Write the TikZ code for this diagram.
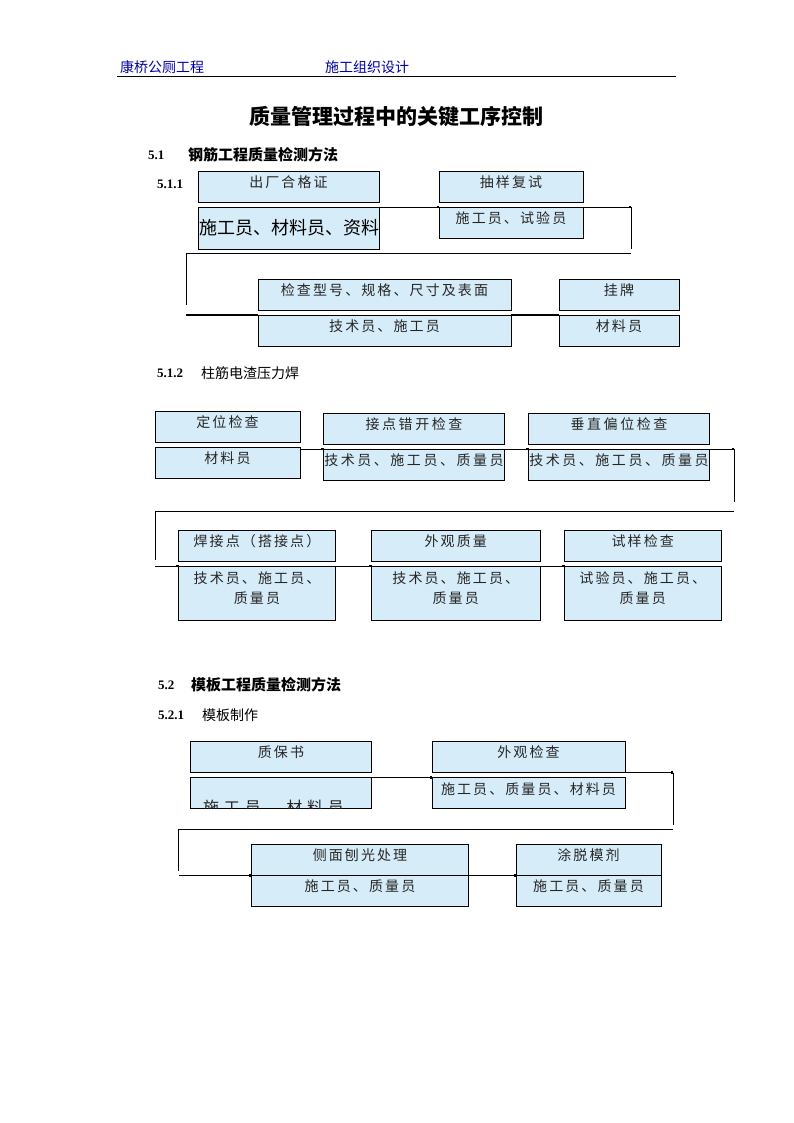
\documentclass[tikz,border=0pt]{standalone}
\usepackage{fontspec}
\setmainfont{Liberation Serif}
\newfontfamily\cjk{Noto Sans CJK SC}
\newfontfamily\boxfont[LetterSpace=15]{Noto Sans CJK SC}
\newfontfamily\wideboxfont[LetterSpace=18]{Noto Sans CJK SC}
\newfontfamily\clipfont[LetterSpace=30]{Noto Sans CJK SC}
\usepackage{tikz}
\usetikzlibrary{arrows.meta,positioning}
\definecolor{boxblue}{RGB}{214,236,248}
\definecolor{headblue}{RGB}{0,0,160}
\newcommand{\twolines}[2]{\raisebox{4pt}[\height][\depth]{\begin{tabular}{@{}c@{}}#1\\#2\end{tabular}}}

\begin{document}
\begin{tikzpicture}[x=1pt,y=-1pt,>={Square[length=2.5pt,width=2.5pt]},
	cell/.style={draw,line width=0.8pt,fill=boxblue,anchor=north west,inner sep=0pt,outer sep=0pt,
		font=\boxfont\fontsize{14}{20}\selectfont,text=black!85},
	box/.style={cell,text height=10pt,text depth=8pt},
	widebox/.style={box,font=\wideboxfont\fontsize{14}{20}\selectfont},
	head/.style={anchor=west,inner sep=0pt},
	flow/.style={line width=0.8pt},
	heavy/.style={line width=1.4pt}]
	\useasboundingbox (0,0) rectangle (794,1123);
	\node[head,text=headblue,font=\cjk\fontsize{14}{16}\selectfont] (hda) at (120,67) {康桥公厕工程};
	\node[head,text=headblue,font=\cjk\fontsize{14}{16}\selectfont] (hdb) at (325,67) {施工组织设计};
	\draw[line width=0.8pt] (117,76) -- (676,76);
	\node[font=\cjk\bfseries\fontsize{21}{24}\selectfont] (title) at (396,117) {质量管理过程中的关键工序控制};
	\tikzset{num/.style={head,font=\bfseries\fontsize{13}{15}\selectfont}}
	\node[num] (n51) at (148,155) {5.1};
	\node[head,font=\cjk\bfseries\fontsize{15}{17}\selectfont] (s51) at (188,155) {钢筋工程质量检测方法};
	\node[num] (n511) at (157,184) {5.1.1};
	\node[num] (n512) at (157,373) {5.1.2};
	\node[head,font=\cjk\fontsize{14}{16}\selectfont] (s512) at (201,373) {柱筋电渣压力焊};
	\node[num] (n52) at (158,685) {5.2};
	\node[head,font=\cjk\bfseries\fontsize{15}{17}\selectfont] (s52) at (191,685) {模板工程质量检测方法};
	\node[num] (n521) at (158,715) {5.2.1};
	\node[head,font=\cjk\fontsize{14}{16}\selectfont] (s521) at (202,715) {模板制作};

	% 5.1.1
	\node[box,minimum width=181,minimum height=31] (chang) at (198,171) {出厂合格证};
	\node[box,minimum width=181,minimum height=42,below=5pt of chang] (changr) {};
	\begin{scope}
		\clip (changr.north west) rectangle (changr.south east);
		\node[head,font=\cjk\fontsize{18}{20}\selectfont] (changt) at ([xshift=1pt]changr.west) {施工员、材料员、资料};
	\end{scope}
	\node[box,minimum width=144,minimum height=31] (chou) at (439,171) {抽样复试};
	\node[box,minimum width=144,minimum height=31,below=5pt of chou] (choup) {施工员、试验员};
	\node[box,minimum width=253,minimum height=31] (jian) at (258,279) {检查型号、规格、尺寸及表面};
	\node[box,minimum width=253,minimum height=31,below=5pt of jian] (jianp) {技术员、施工员};
	\node[box,minimum width=120,minimum height=31] (gua) at (559,279) {挂牌};
	\node[box,minimum width=120,minimum height=31,below=5pt of gua] (guap) {材料员};
	\coordinate (a2) at (631,249);
	\coordinate (a3) at (631,253);
	\coordinate (a4) at (186,253);
	\coordinate (a5) at (186,305);
	\draw[flow,->] (changr.north east) -- (choup.north west);
	\draw[flow,->] (choup.north east) -- (choup.north east -| a2);
	\draw[flow] (choup.north east -| a2) -- (a2);
	\draw[flow] (a3) -- (a4) -- (a5);
	\draw[heavy,->] (jianp.north west -| a5) -- (jianp.north west);
	\draw[heavy,->] (jianp.north east) -- (guap.north west);

	% 5.1.2
	\node[box,minimum width=145,minimum height=31] (ding) at (155,411) {定位检查};
	\node[box,minimum width=145,minimum height=31,below=5pt of ding] (dingp) {材料员};
	\node[widebox,minimum width=181,minimum height=31] (jie) at (323.5,413) {接点错开检查};
	\node[widebox,minimum width=181,minimum height=31,below=5pt of jie] (jiep) {技术员、施工员、质量员};
	\node[widebox,minimum width=181,minimum height=31] (chui) at (528.5,413) {垂直偏位检查};
	\node[widebox,minimum width=181,minimum height=31,below=5pt of chui] (chuip) {技术员、施工员、质量员};
	\node[box,minimum width=157,minimum height=31] (han) at (178.5,530) {焊接点（搭接点）};
	\node[cell,minimum width=157,minimum height=54,below=5pt of han] (hanp) {\twolines{技术员、施工员、}{质量员}};
	\node[box,minimum width=168.5,minimum height=31] (wai) at (371.5,530) {外观质量};
	\node[cell,minimum width=168.5,minimum height=54,below=5pt of wai] (waip) {\twolines{技术员、施工员、}{质量员}};
	\node[box,minimum width=156.5,minimum height=31] (shi) at (564.5,530) {试样检查};
	\node[cell,minimum width=156.5,minimum height=54,below=5pt of shi] (ship) {\twolines{试验员、施工员、}{质量员}};
	\coordinate (b2) at (734,502);
	\coordinate (b3) at (734,511);
	\coordinate (b4) at (155,511);
	\coordinate (b5) at (155,560);
	\draw[flow,->] (dingp.east |- jiep.north) -- (jiep.north west);
	\draw[flow,->] (jiep.north east) -- (chuip.north west);
	\draw[flow,->] (chuip.north east) -- (chuip.north east -| b2);
	\draw[flow] (chuip.north east -| b2) -- (b2);
	\draw[flow] (b3) -- (b4) -- (b5);
	\draw[flow,->] (hanp.north west -| b5) -- (hanp.north west);
	\draw[flow,->] (hanp.north east) -- (waip.north west);
	\draw[flow,->] (waip.north east) -- (ship.north west);

	% 5.2.1
	\node[box,minimum width=181,minimum height=31.5] (zhi) at (190.5,741) {质保书};
	\node[box,minimum width=181,minimum height=31,below=5pt of zhi] (zhip) {};
	\begin{scope}
		\clip (zhip.north west) rectangle (zhip.south east);
		\node[anchor=base west,inner sep=0pt,font=\clipfont\fontsize{16}{18}\selectfont,text=black!85] (zhit) at (203,813) {施工员、材料员};
	\end{scope}
	\node[box,minimum width=193,minimum height=31.5] (waij) at (432,741) {外观检查};
	\node[box,minimum width=193,minimum height=31,below=5pt of waij] (waijp) {施工员、质量员、材料员};
	\node[box,minimum width=217,minimum height=31.5] (ce) at (251.5,844) {侧面刨光处理};
	\node[box,minimum width=217,minimum height=30.5,below=0pt of ce] (cep) {施工员、质量员};
	\node[box,minimum width=145,minimum height=31.5] (tu) at (516,844) {涂脱模剂};
	\node[box,minimum width=145,minimum height=30.5,below=0pt of tu] (tup) {施工员、质量员};
	\coordinate (c2) at (673,825);
	\coordinate (c3) at (673,829);
	\coordinate (c4) at (178.5,829);
	\coordinate (c5) at (178.5,871);
	\draw[heavy,->] (zhip.north east) -- (waijp.north west);
	\draw[flow,->] (waij.south east) -- (waij.south east -| c2);
	\draw[flow] (waij.south east -| c2) -- (c2);
	\draw[flow] (c3) -- (c4) -- (c5);
	\draw[flow,->] (cep.north west -| c5) -- (cep.north west);
	\draw[flow,->] (cep.north east) -- (tup.north west);
\end{tikzpicture}
\end{document}
